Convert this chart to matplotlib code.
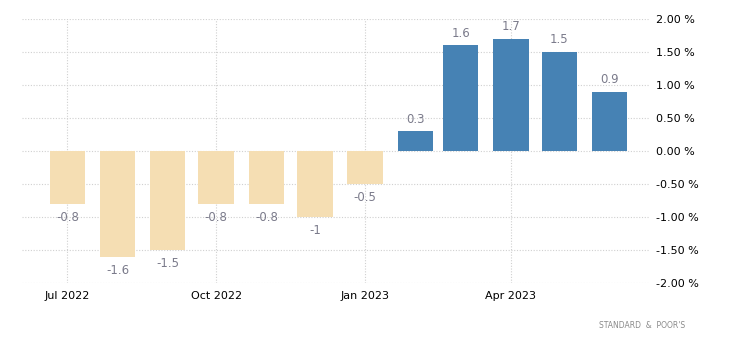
import matplotlib.pyplot as plt
import matplotlib.dates as mdates
from datetime import datetime

months = ['2022-07', '2022-08', '2022-09', '2022-10', '2022-11', '2022-12',
          '2023-01', '2023-02', '2023-03', '2023-04', '2023-05', '2023-06']
values = [-0.8, -1.6, -1.5, -0.8, -0.8, -1.0, -0.5, 0.3, 1.6, 1.7, 1.5, 0.9]
value_labels = ['-0.8', '-1.6', '-1.5', '-0.8', '-0.8', '-1', '-0.5',
                '0.3', '1.6', '1.7', '1.5', '0.9']
y_ticks = [-2.0, -1.5, -1.0, -0.5, 0.0, 0.5, 1.0, 1.5, 2.0]
x_ticks = ['2022-07', '2022-10', '2023-01', '2023-04']

dates = [datetime.strptime(m, '%Y-%m') for m in months]
colors = ['#4682b4' if v >= 0 else '#f5deb3' for v in values]

fig = plt.figure(figsize=(7.3, 3.5), dpi=100)
ax = fig.add_axes([22 / 730, 1 - 283 / 350, 628 / 730, 264 / 350])

ax.bar(dates, values, width=22, color=colors, zorder=2)

# value labels above positive bars, below negative ones
for d, v, lab in zip(dates, values, value_labels):
    if v >= 0:
        ax.annotate(lab, (d, v), xytext=(0, 4), textcoords='offset points',
                    ha='center', va='bottom', color='#7b7b8b', fontsize=8.5)
    else:
        ax.annotate(lab, (d, v), xytext=(0, -5), textcoords='offset points',
                    ha='center', va='top', color='#7b7b8b', fontsize=8.5)

ax.set_ylim(-2, 2)
ax.set_xlim(datetime(2022, 6, 3), datetime(2023, 6, 26))
ax.set_yticks(y_ticks)
ax.set_yticklabels([f'{t:.2f} %' for t in y_ticks])
ax.yaxis.tick_right()
ax.set_xticks([datetime.strptime(m, '%Y-%m') for m in x_ticks])
ax.xaxis.set_major_formatter(mdates.DateFormatter('%b %Y'))

ax.tick_params(axis='both', length=0, labelsize=8, colors='black')
ax.tick_params(axis='y', pad=4)
ax.tick_params(axis='x', pad=6)
ax.grid(True, color='#d0d0d0', linestyle=(0, (1, 1.5)), linewidth=0.8, zorder=0)
for s in ax.spines.values():
    s.set_visible(False)

fig.text(685 / 730, 1 - 325 / 350, "STANDARD  &  POOR'S", ha='right', va='center',
         fontsize=5.5, color='#8a8a8a')

fig.savefig('out.png', dpi=100)
